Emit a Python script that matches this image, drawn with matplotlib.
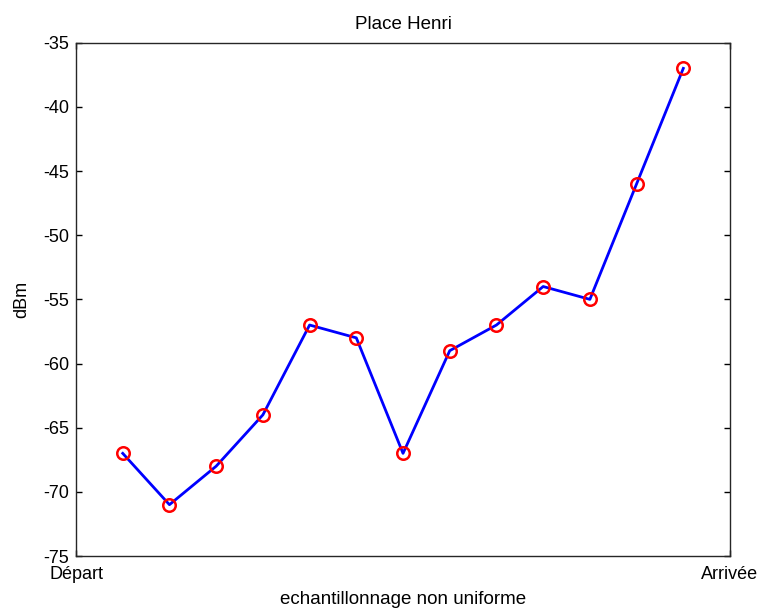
import numpy as np
import matplotlib.pyplot as plt

plt.rcParams['font.family'] = ['Liberation Sans', 'DejaVu Sans']
plt.rcParams['axes.unicode_minus'] = False

# received power along the walk, one reading per stop
stops = np.arange(1, 14)
power_dbm = [-67, -71, -68, -64, -57, -58, -67, -59, -57, -54, -55, -46, -37]
xtick_labels = ['Départ', 'Arrivée']

fig = plt.figure(figsize=(7.61, 6.10), dpi=100)
ax = fig.add_axes([0.0999, 0.0885, 0.8594, 0.8415])

ax.plot(stops, power_dbm, color='blue', linewidth=2, zorder=2)
ax.plot(stops, power_dbm, linestyle='none', marker='o', markersize=9,
        markerfacecolor='none', markeredgecolor='red', markeredgewidth=1.8, zorder=3)

ax.set_xlim(0, 14)
ax.set_ylim(-75, -35)
ax.set_xticks([0, 14])
ax.set_xticklabels(xtick_labels)
ax.set_yticks(np.arange(-75, -34, 5))

ax.tick_params(direction='in', length=4.5, width=1, labelsize=13, colors='black',
               right=True, top=True)
ax.tick_params(axis='y', pad=5)
ax.tick_params(axis='x', pad=7)
for spine in ax.spines.values():
    spine.set_linewidth(1.0)
    spine.set_color('#262626')

ax.set_title('Place Henri', fontsize=13.5, pad=10)
ax.set_xlabel('echantillonnage non uniforme', fontsize=13.5, labelpad=6)
ax.set_ylabel('dBm', fontsize=13, labelpad=9)

fig.savefig('out.png', dpi=100)
